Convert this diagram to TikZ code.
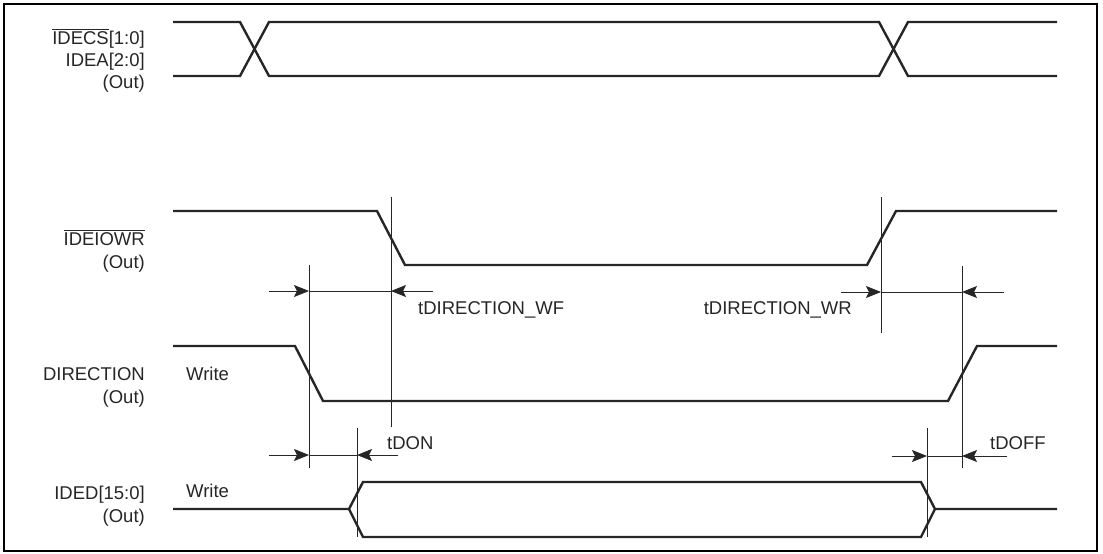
\documentclass[tikz,border=0pt]{standalone}
\usepackage{fontspec}
\setmainfont{Liberation Sans}
\usetikzlibrary{arrows.meta}
\begin{document}
\begin{tikzpicture}[x=1pt,y=-1pt,
  sig/.style={line width=2.4pt, line join=miter, draw=black!85},
  thinline/.style={line width=0.9pt, draw=black!85},
  dimarrow/.style={line width=0.9pt, draw=black!85, -{Stealth[length=15pt,width=12pt,inset=3pt]}},
  lbl/.style={anchor=base east, inner sep=0pt, font=\fontsize{18.5}{22}\selectfont, text=black!85},
  txt/.style={inner sep=0pt, font=\fontsize{18.5}{22}\selectfont, text=black!85}]
\useasboundingbox (0,0) rectangle (1103,554);
\draw[line width=2.4pt] (4,4) rectangle (1097,551);

% signal names
\node[lbl] (l1a) at (145,44) {$\overline{\mbox{IDECS}}$[1:0]};
\node[lbl] (l1b) at (145,66) {IDEA[2:0]};
\node[lbl] (l1c) at (145,88) {(Out)};
\node[lbl] (l2a) at (145,245) {$\overline{\mbox{IDEIOWR}}$};
\node[lbl] (l2b) at (145,268) {(Out)};
\node[lbl] (l3a) at (145,380) {DIRECTION};
\node[lbl] (l3b) at (145,403) {(Out)};
\node[lbl] (l4a) at (145,499) {IDED[15:0]};
\node[lbl] (l4b) at (145,522) {(Out)};

% waveforms
\draw[sig] (173,22) -- (240,22) -- (269,76) -- (879,76) -- (908,22) -- (1057,22);
\draw[sig] (173,76) -- (240,76) -- (269,22) -- (879,22) -- (908,76) -- (1057,76);
\draw[sig] (173,211) -- (377,211) -- (405,265) -- (867,265) -- (896,211) -- (1057,211);
\draw[sig] (173,346) -- (295,346) -- (323,401) -- (948,401) -- (977,346) -- (1057,346);
\draw[sig] (173,509) -- (349,509) -- (363,482) -- (921,482) -- (935,509) -- (1057,509);
\draw[sig] (349,509) -- (363,537) -- (921,537) -- (935,509);

% in-wave labels
\node[txt, anchor=base west] (w1) at (186,380) {Write};
\node[txt, anchor=base west] (w2) at (186,497) {Write};

% reference lines
\coordinate (v1t) at (391,197); \coordinate (v1b) at (391,427);
\coordinate (v2t) at (881,197); \coordinate (v2b) at (881,333);
\coordinate (v3t) at (309,265); \coordinate (v3b) at (309,468);
\coordinate (v4t) at (962,266); \coordinate (v4b) at (962,468);
\coordinate (v5t) at (357,428); \coordinate (v5b) at (357,537);
\coordinate (v6t) at (927,428); \coordinate (v6b) at (927,537);
\foreach \v in {v1,v2,v3,v4,v5,v6} \draw[thinline] (\v t) -- (\v b);

% tDIRECTION_WF
\coordinate (a1s) at (269,291); \coordinate (a1l) at (309,291);
\coordinate (a1r) at (391,291); \coordinate (a1e) at (433,291);
\draw[dimarrow] (a1s) -- (a1l);
\draw[thinline] (a1l) -- (a1r);
\draw[dimarrow] (a1e) -- (a1r);
\node[txt, anchor=base west] (tWF) at (418,314) {tDIRECTION\_WF};

% tDIRECTION_WR
\coordinate (a2s) at (841,292); \coordinate (a2l) at (881,292);
\coordinate (a2r) at (962,292); \coordinate (a2e) at (1004,292);
\draw[dimarrow] (a2s) -- (a2l);
\draw[thinline] (a2l) -- (a2r);
\draw[dimarrow] (a2e) -- (a2r);
\node[txt, anchor=base east] (tWR) at (852,314) {tDIRECTION\_WR};

% tDON
\coordinate (a3s) at (269,455); \coordinate (a3l) at (309,455);
\coordinate (a3r) at (357,455); \coordinate (a3e) at (398,455);
\draw[dimarrow] (a3s) -- (a3l);
\draw[thinline] (a3l) -- (a3r);
\draw[dimarrow] (a3e) -- (a3r);
\node[txt, anchor=base west] (tDON) at (387,449) {tDON};

% tDOFF
\coordinate (a4s) at (892,456); \coordinate (a4l) at (927,456);
\coordinate (a4r) at (962,456); \coordinate (a4e) at (1007,456);
\draw[dimarrow] (a4s) -- (a4l);
\draw[thinline] (a4l) -- (a4r);
\draw[dimarrow] (a4e) -- (a4r);
\node[txt, anchor=base west] (tDOFF) at (990,449) {tDOFF};
\end{tikzpicture}
\end{document}
